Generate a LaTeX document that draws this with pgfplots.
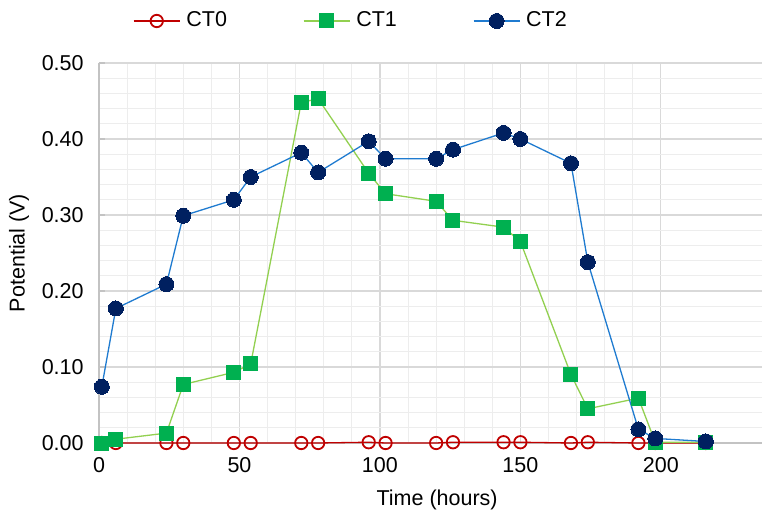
\documentclass[border=0pt]{standalone}
\usepackage{pgfplots}
\pgfplotsset{compat=1.18}
\usepackage{fontspec}
\setmainfont{Liberation Sans}

\definecolor{ctzero}{HTML}{C00000}
\definecolor{ctoneline}{HTML}{92D050}
\definecolor{ctonemark}{HTML}{00B050}
\definecolor{cttwoline}{HTML}{1F7BD0}
\definecolor{cttwomark}{HTML}{002060}
\definecolor{majgrid}{HTML}{D9D9D9}
\definecolor{mingrid}{HTML}{EDEDED}

\begin{document}
\fontsize{21.5bp}{25bp}\selectfont
\begin{tikzpicture}
\useasboundingbox (-99bp,-69bp) rectangle (664bp,443bp);

\begin{axis}[%
at={(0,0)}, anchor=south west,
width=663bp, height=380bp,
scale only axis,
/pgf/number format/assume math mode=true,
tick label style={font=\fontsize{21.5bp}{25bp}\selectfont},
label style={font=\fontsize{21.5bp}{25bp}\selectfont},
xmin=0, xmax=236,
ymin=0, ymax=0.5,
xtick={0,50,100,150,200},
ytick={0,0.1,0.2,0.3,0.4,0.5},
minor x tick num=4,
minor y tick num=4,
yticklabel style={xshift=-8bp, /pgf/number format/.cd, fixed, fixed zerofill, precision=2},
scaled y ticks=false,
grid=both,
major grid style={draw=majgrid, line width=1.2bp},
minor grid style={draw=mingrid, line width=1bp},
axis x line*=bottom,
axis y line*=left,
axis line style={draw=majgrid!90!black, line width=1.2bp, -},
x tick style={draw=none},
minor tick length=0pt,
y tick style={draw=majgrid!90!black, line width=1.2bp},
major tick length=6bp,
xticklabel style={yshift=-7bp},
xlabel={Time (hours)},
ylabel={Potential (V)},
xlabel style={at={([yshift=-57bp]axis description cs:0.51,0)}, anchor=center},
ylabel style={at={([xshift=-80bp]axis description cs:0,0.5)}, anchor=center},
legend columns=3,
legend style={at={([yshift=42bp]axis description cs:0.38,1)}, anchor=center,
  draw=none, fill=none, font=\fontsize{21.5bp}{25bp}\selectfont,
  /tikz/every odd column/.append style={column sep=4bp},
  /tikz/every even column/.append style={column sep=74bp}},
legend image code/.code={%
  \draw[mark repeat=2, mark phase=2] plot coordinates {(0bp,0bp) (23bp,0bp) (46bp,0bp)};},
clip=false]

\addplot [color=ctzero, line width=1.3bp, mark=o,
  mark options={draw=ctzero, fill=white, line width=1.8bp}, mark size=6.2bp]
coordinates{
(1,0.000)(6,0.000)(24,0.000)(30,0.000)(48,0.000)(54,0.000)(72,0.000)(78,0.000)
(96,0.001)(102,0.000)(120,0.000)(126,0.001)(144,0.001)(150,0.001)(168,0.000)
(174,0.001)(192,0.000)(198,0.000)(216,0.000)
};
\addlegendentry{CT0}

\addplot [color=ctoneline, line width=1.3bp, mark=square*,
  mark options={draw=ctonemark, fill=ctonemark, line width=0pt}, mark size=7bp]
coordinates{
(1,0.000)(6,0.005)(24,0.013)(30,0.077)(48,0.093)(54,0.104)(72,0.448)(78,0.453)
(96,0.355)(102,0.328)(120,0.318)(126,0.293)(144,0.284)(150,0.265)(168,0.090)
(174,0.045)(192,0.059)(198,0.001)(216,0.001)
};
\addlegendentry{CT1}

\addplot [color=cttwoline, line width=1.3bp, mark=*,
  mark options={draw=cttwomark, fill=cttwomark, line width=0pt}, mark size=7.5bp]
coordinates{
(1,0.074)(6,0.177)(24,0.209)(30,0.299)(48,0.320)(54,0.350)(72,0.382)(78,0.356)
(96,0.397)(102,0.374)(120,0.374)(126,0.386)(144,0.408)(150,0.400)(168,0.368)
(174,0.238)(192,0.018)(198,0.006)(216,0.002)
};
\addlegendentry{CT2}

\end{axis}
\end{tikzpicture}
\end{document}
